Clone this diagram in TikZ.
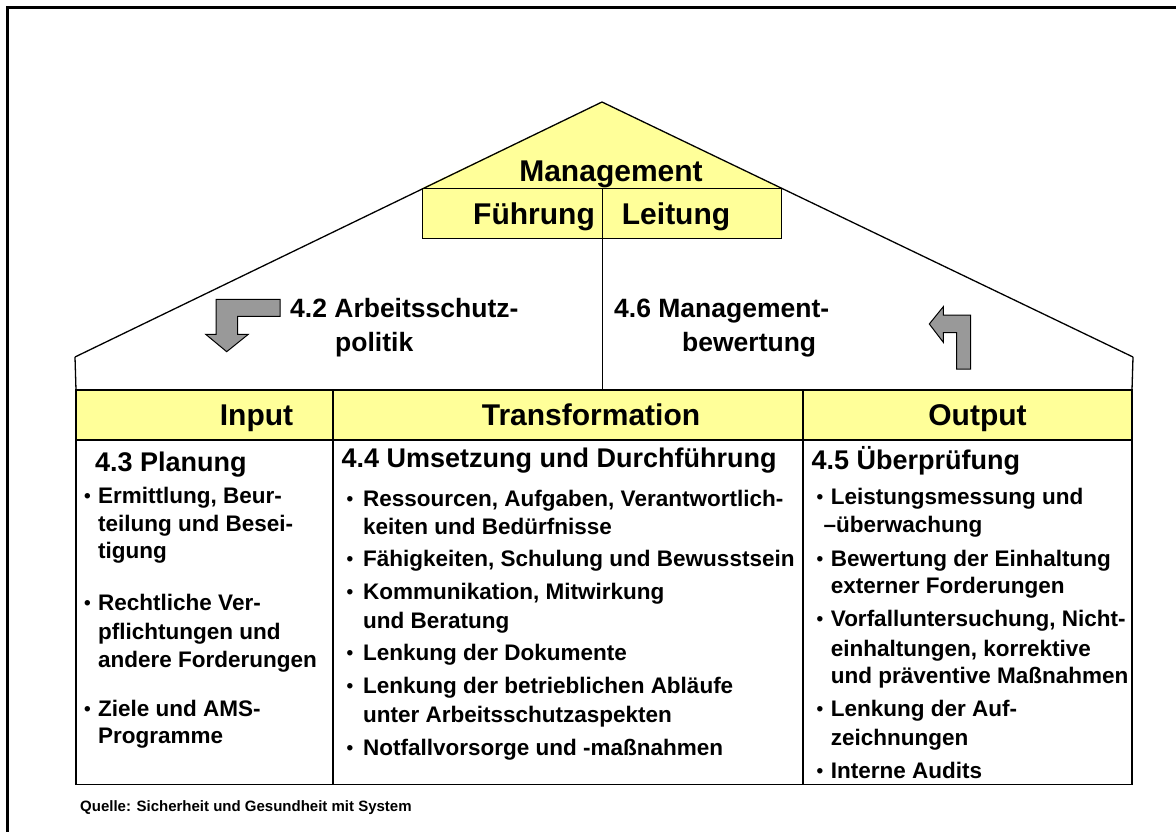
\documentclass[tikz,border=0pt]{standalone}
\usepackage{fontspec}
\setmainfont{Liberation Sans}
\definecolor{roofyellow}{HTML}{FFFF99}
\definecolor{arrowgray}{HTML}{999999}
\tikzset{
  hdr/.style={font=\fontsize{30}{36}\selectfont\bfseries, inner sep=0pt, anchor=base},
  sec/.style={font=\fontsize{27}{32}\selectfont\bfseries, inner sep=0pt, anchor=base west},
  itm/.style={font=\fontsize{22.5}{27}\selectfont\bfseries, inner sep=0pt, anchor=base west},
  bul/.style={font=\fontsize{19}{22}\selectfont\bfseries, inner sep=0pt, anchor=base west, yshift=0.8pt},
  pol/.style={font=\fontsize{26.5}{31}\selectfont\bfseries, inner sep=0pt, anchor=base west},
  src/.style={font=\fontsize{15}{18}\selectfont\bfseries, inner sep=0pt, anchor=base west},
  thin/.style={line width=1.3pt, draw=black},
  garrow/.style={fill=arrowgray, draw=black, line width=1pt, line join=miter},
}
\begin{document}
\begin{tikzpicture}[x=1pt,y=-1pt]
\useasboundingbox (0,0) rectangle (1176,832);
% outer frame (only top and left visible)
\draw[line width=3pt] (7.4,832) -- (7.4,7.6) -- (1176,7.6);

% roof
\coordinate (apex) at (602,102);
\coordinate (lend) at (75,357);
\coordinate (rend) at (1133,357);
\coordinate (lwall) at (76,390);
\coordinate (rwall) at (1132,390);
\fill[roofyellow] (apex) -- (422,188) -- (782,188) -- cycle;
\node[draw=black, line width=1.3pt, fill=roofyellow, minimum width=359pt, minimum height=50pt, inner sep=0pt, anchor=north west] (fbox) at (422,188) {};
\draw[thin] (lend) -- (apex) -- (rend);
\draw[thin] (lend) -- (lwall);
\draw[thin] (rend) -- (rwall);
\coordinate (divtop) at (602.7,188);
\coordinate (divbot) at (602.7,390);
\draw[thin] (divtop) -- (divbot);

\node[hdr] (mgmt) at (611,181.7) {Management};
\node[hdr, anchor=base west] (fuehrung) at (473,225) {Führung};
\node[hdr, anchor=base west] (leitung) at (621.7,225) {Leitung};

% arrows
\draw[garrow] (280,299.3) -- (216,299.3) -- (216,334.3) -- (205.7,334.3) -- (226.7,351.7) -- (248.3,334.3) -- (237.7,334.3) -- (237.7,316.3) -- (280,316.3) -- cycle;
\draw[garrow] (956.7,369) -- (970.7,369) -- (970.7,315) -- (943.3,315) -- (943.3,306.7) -- (929.3,324) -- (943.3,342.3) -- (943.3,332.7) -- (956.7,332.7) -- cycle;

\node[pol] (pol1) at (290,317.3) {4.2 Arbeitsschutz-};
\node[pol] (pol2) at (335,351.7) {politik};
\node[pol] (mb1) at (614,317.3) {4.6 Management-};
\node[pol] (mb2) at (682,351.7) {bewertung};

% table
\fill[roofyellow] (76,390) rectangle (1132,440);
\draw[thin] (76,390) rectangle (1132,784.3);
\draw[thin] (76,440) -- (1132,440);
\draw[thin] (333,390) -- (333,784.3);
\draw[thin] (803,390) -- (803,784.3);

\node[hdr] (hin) at (256.5,425) {Input};
\node[hdr] (htr) at (591,425) {Transformation};
\node[hdr] (hout) at (977.5,425) {Output};

% Input column
\node[sec] (s43) at (95,471) {4.3 Planung};
\node[bul] (b1a) at (84,503) {•};
\node[itm] (i1a) at (98,503) {Ermittlung, Beur-};
\node[itm] (i1b) at (98,531.7) {teilung und Besei-};
\node[itm] (i1c) at (98,558.5) {tigung};
\node[bul] (b1b) at (84,610) {•};
\node[itm] (i1d) at (98,610) {Rechtliche Ver-};
\node[itm] (i1e) at (98,639) {pflichtungen und};
\node[itm] (i1f) at (98,667) {andere Forderungen};
\node[bul] (b1c) at (84,716.7) {•};
\node[itm] (i1g) at (98,716.7) {Ziele und AMS-};
\node[itm] (i1h) at (98,743.5) {Programme};

% Transformation column
\node[sec] (s44) at (341.5,467) {4.4 Umsetzung und Durchführung};
\node[bul] (b2a) at (346.5,506) {•};
\node[itm] (i2a) at (363,506) {Ressourcen, Aufgaben, Verantwortlich-};
\node[itm] (i2b) at (363,534) {keiten und Bedürfnisse};
\node[bul] (b2b) at (346.5,566.7) {•};
\node[itm] (i2c) at (363,566.7) {Fähigkeiten, Schulung und Bewusstsein};
\node[bul] (b2c) at (346.5,599) {•};
\node[itm] (i2d) at (363,599) {Kommunikation, Mitwirkung};
\node[itm] (i2e) at (363,628) {und Beratung};
\node[bul] (b2d) at (346.5,660.7) {•};
\node[itm] (i2f) at (363,660.7) {Lenkung der Dokumente};
\node[bul] (b2e) at (346.5,693) {•};
\node[itm] (i2g) at (363,693) {Lenkung der betrieblichen Abläufe};
\node[itm] (i2h) at (363,722.7) {unter Arbeitsschutzaspekten};
\node[bul] (b2f) at (346.5,755) {•};
\node[itm] (i2i) at (363,755) {Notfallvorsorge und -maßnahmen};

% Output column
\node[sec] (s45) at (811.5,469) {4.5 Überprüfung};
\node[bul] (b3a) at (816.5,504) {•};
\node[itm] (i3a) at (830.7,504) {Leistungsmessung und};
\node[itm] (i3b) at (823.3,532.7) {–überwachung};
\node[bul] (b3b) at (816.5,566) {•};
\node[itm] (i3c) at (830.7,566) {Bewertung der Einhaltung};
\node[itm] (i3d) at (830.7,593.5) {externer Forderungen};
\node[bul] (b3c) at (816.5,626.7) {•};
\node[itm] (i3e) at (830.7,626.7) {Vorfalluntersuchung, Nicht-};
\node[itm] (i3f) at (830.7,656) {einhaltungen, korrektive};
\node[itm] (i3g) at (830.7,683.5) {und präventive Maßnahmen};
\node[bul] (b3d) at (816.5,716.7) {•};
\node[itm] (i3h) at (830.7,716.7) {Lenkung der Auf-};
\node[itm] (i3i) at (830.7,745) {zeichnungen};
\node[bul] (b3e) at (816.5,778) {•};
\node[itm] (i3j) at (830.7,778) {Interne Audits};

% source
\node[src] (source) at (80,811.7) {Quelle: Sicherheit und Gesundheit mit System};
\end{tikzpicture}
\end{document}
